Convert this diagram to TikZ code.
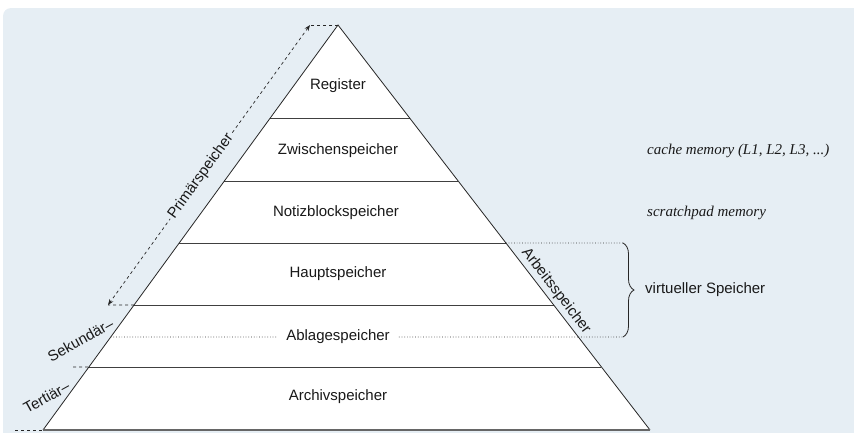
\documentclass[tikz,border=0pt]{standalone}
\usepackage{fontspec}
\setmainfont{Liberation Sans}
\newfontfamily\timesfont{Liberation Serif}
\usetikzlibrary{calc,arrows.meta,decorations.pathreplacing}
\definecolor{bg}{HTML}{E6EEF4}
\begin{document}
\begin{tikzpicture}[x=1pt,y=-1pt,
  lbl/.style={font=\fontsize{15}{18}\selectfont, text=black!90, inner sep=2pt},
  ital/.style={font=\timesfont\itshape\fontsize{15}{18}\selectfont, text=black!90, anchor=west, inner sep=2pt},
  edgeline/.style={draw=black!85, line width=0.8pt},
  levelline/.style={draw=black!75, line width=0.9pt},
  dsh/.style={dashed, draw=black!85, line width=0.7pt},
  dtt/.style={dotted, draw=black!80, line width=0.7pt}]
\useasboundingbox (0,0) rectangle (854,432);
\clip (0,0) rectangle (854,432);
\fill[bg, rounded corners=8pt] (3,445) -- (3,8) -- (870,8) -- (870,445) -- cycle;
\coordinate (A) at (338,25);
\coordinate (BL) at (43,430);
\coordinate (BR) at (650,430);
\fill[white] (A) -- (BL) -- (BR) -- cycle;
\foreach \n/\t in {a/0.2296, b/0.3852, c/0.5383, d/0.6914, e/0.8444, m/0.7704} {
  \coordinate (L\n) at ($(A)!\t!(BL)$);
  \coordinate (R\n) at ($(A)!\t!(BR)$);
}
\foreach \n in {a,b,c,d,e} { \draw[levelline] (L\n) -- (R\n); }
\draw[edgeline] (BL) -- (A) -- (BR);
\draw[draw=black!60, line width=1.3pt] (BL) -- (BR);
% level labels
\node[lbl] (reg) at (338,86) {Register};
\node[lbl] (zw) at (338,151) {Zwischenspeicher};
\node[lbl] (notiz) at (336,213) {Notizblockspeicher};
\node[lbl] (haupt) at (338,274) {Hauptspeicher};
\node[lbl, inner xsep=9pt] (abl) at (338,337) {Ablagespeicher};
\node[lbl] (arch) at (338,397) {Archivspeicher};
\draw[dtt] (Lm) -- (abl.west);
\draw[dtt] (abl.east) -- (Rm);
% right side
\coordinate (V1) at (623,243);
\coordinate (V2) at (623,337);
\draw[dtt] (Rc) -- (V1);
\draw[dtt] (Rm) -- (V2);
\draw[decorate, decoration={brace, amplitude=11pt}, line width=0.8pt, draw=black!85] (V1) -- (V2);
\node[lbl, anchor=west] (virt) at (643,290) {virtueller Speicher};
\node[ital] (cache) at (645,151) {cache memory (L1, L2, L3, ...)};
\node[ital] (scratch) at (645,213) {scratchpad memory};
\node[lbl, rotate=-52.4] (arb) at (556,291) {Arbeitsspeicher};
% left side
\coordinate (P1) at (310,25);
\coordinate (P2) at (108,305);
\draw[dsh] (A) -- (P1);
\draw[dsh] (Ld) -- (P2);
\draw[dsh, {Stealth[length=6pt,width=4.5pt]}-{Stealth[length=6pt,width=4.5pt]}] (P1) -- node[lbl, sloped, fill=bg, pos=0.54] (prim) {Primärspeicher} (P2);
\node[lbl, rotate=29] (sek) at (80.5,340) {Sekundär–};
\node[lbl, rotate=29] (ter) at (46.5,397) {Tertiär–};
\coordinate (T1) at (73,367);
\draw[dsh] (T1) -- (Le);
\coordinate (T2) at (15,430);
\draw[dsh] (T2) -- (BL);
\end{tikzpicture}
\end{document}
